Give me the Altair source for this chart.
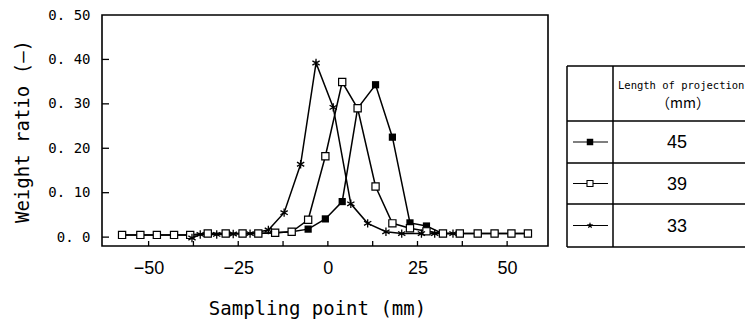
import altair as alt
import pandas as pd

# Sampling positions (mm) shared by the 45 mm and 39 mm projection runs
x_grid = [-57.4, -52.3, -47.7, -42.9, -38.4, -33.5, -28.5, -23.8, -19.4, -14.7,
          -10.1, -5.5, -0.7, 4.0, 8.3, 13.3, 18.0, 22.9, 27.5, 32.1,
          36.8, 41.8, 46.5, 51.2, 55.8]
ratio_45 = [0.005, 0.005, 0.005, 0.005, 0.005, 0.008, 0.008, 0.008, 0.008, 0.010,
            0.012, 0.018, 0.041, 0.080, 0.290, 0.343, 0.225, 0.032, 0.025, 0.008,
            0.008, 0.008, 0.008, 0.008, 0.008]
ratio_39 = [0.005, 0.005, 0.005, 0.005, 0.005, 0.008, 0.008, 0.008, 0.008, 0.010,
            0.012, 0.039, 0.182, 0.349, 0.290, 0.114, 0.031, 0.020, 0.013, 0.008,
            0.008, 0.008, 0.008, 0.008, 0.008]

# Sampling positions (mm) and ratios for the 33 mm projection run
x_33 = [-37.9, -35.6, -31.0, -26.4, -21.7, -16.6, -12.2, -7.6, -3.3, 1.5,
        6.4, 11.1, 16.2, 20.6, 26.1, 29.8, 34.9]
ratio_33 = [-0.002, 0.006, 0.006, 0.007, 0.008, 0.016, 0.055, 0.164, 0.392, 0.292,
            0.075, 0.031, 0.012, 0.008, 0.008, 0.008, 0.008]

projection_labels = ["45", "39", "33"]

x_tick_values = [-50, -37.5, -25, -12.5, 0, 12.5, 25, 37.5, 50]
x_label_values = [-50, -25, 0, 25, 50]
y_tick_values = [0.0, 0.1, 0.2, 0.3, 0.4]
y_label_values = [0.0, 0.1, 0.2, 0.3, 0.4, 0.5]

W, H = 446, 231
MONO = "DejaVu Sans Mono"
SANS = "Liberation Sans"

# symbol paths in the unit square
ASTERISK = "M0,-1L0,1M-0.87,-0.5L0.87,0.5M-0.87,0.5L0.87,-0.5"
STAR5 = ("M0,-1L0.235,-0.324L0.951,-0.309L0.380,0.124L0.588,0.809L0,0.4"
         "L-0.588,0.809L-0.380,0.124L-0.951,-0.309L-0.235,-0.324Z")

df = pd.concat([
    pd.DataFrame({"x": x_grid, "y": ratio_45, "series": "45"}),
    pd.DataFrame({"x": x_grid, "y": ratio_39, "series": "39"}),
    pd.DataFrame({"x": x_33, "y": ratio_33, "series": "33"}),
], ignore_index=True)

X = alt.X(
    "x:Q",
    scale=alt.Scale(domain=[-63, 61.4], nice=False, zero=False),
    axis=alt.Axis(
        values=x_label_values, ticks=False, domain=False, grid=False,
        labelFont=SANS, labelFontSize=18, labelColor="black", labelPadding=13,
        labelFlush=False,
        title="Sampling point (mm)", titleFont=MONO, titleFontSize=19,
        titleFontWeight="normal", titleColor="black",
        titleX=215, titleY=62, titleBaseline="middle", titleAlign="center",
    ),
)
Y = alt.Y(
    "y:Q",
    scale=alt.Scale(domain=[-0.02, 0.5], nice=False, zero=False),
    axis=alt.Axis(
        values=y_label_values, ticks=False, domain=False, grid=False,
        labelExpr="datum.value == 0 ? '0. 0' : '0. ' + format(datum.value * 100, '02d')",
        labelFont=MONO, labelFontSize=14, labelColor="black", labelPadding=12,
        labelBaseline="middle", labelFlush=False,
        title="Weight ratio (—)", titleFont=MONO, titleFontSize=19,
        titleFontWeight="normal", titleColor="black", titleAngle=270,
        titleX=-80, titleY=116, titleBaseline="middle", titleAlign="center",
    ),
)

lines = alt.Chart(df).mark_line(color="black", strokeWidth=1.5).encode(
    x=X, y=Y, detail="series:N"
)
filled_pts = alt.Chart(df[df.series == "45"]).mark_point(
    shape="square", filled=True, color="black", size=52, opacity=1
).encode(x=X, y=Y)
open_pts = alt.Chart(df[df.series == "39"]).mark_point(
    shape="square", filled=True, fill="white", stroke="black", strokeWidth=1.2,
    size=52, opacity=1
).encode(x=X, y=Y)
star_pts = alt.Chart(df[df.series == "33"]).mark_point(
    shape=ASTERISK, filled=False, stroke="black", strokeWidth=1.3, size=70, opacity=1
).encode(x=X, y=Y)

# inward tick marks along the bottom and left frame
x_ticks = alt.Chart(pd.DataFrame({"x": x_tick_values})).mark_rule(
    color="black", strokeWidth=1.3
).encode(x=X, y=alt.value(H), y2=alt.value(H - 5))
y_ticks = alt.Chart(pd.DataFrame({"y": y_tick_values})).mark_rule(
    color="black", strokeWidth=1.3
).encode(y=Y, x=alt.value(0), x2=alt.value(7))

# legend table to the right of the plot
T_LEFT, T_DIV, T_RIGHT = 465, 511, 643
T_TOP, T_ROWS, T_BOTTOM = 51, [106, 148, 189], 232
row_mid = [(T_ROWS[0] + T_ROWS[1]) / 2, (T_ROWS[1] + T_ROWS[2]) / 2, (T_ROWS[2] + T_BOTTOM) / 2]
one = pd.DataFrame({"k": [0]})

table_layers = []
for yy in [T_TOP] + T_ROWS + [T_BOTTOM]:
    table_layers.append(
        alt.Chart(one).mark_rule(color="black", strokeWidth=1.5).encode(
            x=alt.value(T_LEFT), x2=alt.value(T_RIGHT), y=alt.value(yy)
        )
    )
for xx in [T_LEFT, T_DIV]:
    table_layers.append(
        alt.Chart(one).mark_rule(color="black", strokeWidth=1.5).encode(
            x=alt.value(xx), y=alt.value(T_TOP), y2=alt.value(T_BOTTOM)
        )
    )
table_layers.append(
    alt.Chart(pd.DataFrame({"t": ["Length of projection"]})).mark_text(
        font=MONO, fontSize=10.5, align="left", baseline="middle", color="black"
    ).encode(text="t:N", x=alt.value(T_DIV + 5), y=alt.value(71))
)
table_layers.append(
    alt.Chart(pd.DataFrame({"t": ["（mm）"]})).mark_text(
        font="Noto Sans CJK JP", fontSize=14, align="center", baseline="middle", color="black"
    ).encode(text="t:N", x=alt.value(581), y=alt.value(89))
)

marker_styles = [
    dict(shape="square", filled=True, color="black", size=42),
    dict(shape="square", filled=True, fill="white", stroke="black", strokeWidth=1.1, size=36),
    dict(shape=STAR5, filled=True, color="black", size=50),
]
for lab, ym, style in zip(projection_labels, row_mid, marker_styles):
    row = pd.DataFrame({"t": [lab]})
    table_layers.append(
        alt.Chart(row).mark_rule(color="black", strokeWidth=1.2).encode(
            x=alt.value(471), x2=alt.value(506), y=alt.value(ym)
        )
    )
    table_layers.append(
        alt.Chart(row).mark_point(opacity=1, **style).encode(
            x=alt.value(488), y=alt.value(ym)
        )
    )
    table_layers.append(
        alt.Chart(row).mark_text(
            font=SANS, fontSize=18, align="center", baseline="middle", color="black"
        ).encode(text="t:N", x=alt.value(575), y=alt.value(ym + 1))
    )

chart = alt.layer(
    lines, x_ticks, y_ticks, filled_pts, open_pts, star_pts, *table_layers
).properties(
    width=W, height=H,
    autosize=alt.AutoSizeParams(type="none"),
    padding={"left": 102, "top": 15, "right": 197, "bottom": 81},
    background="white",
).configure_view(stroke="black", strokeWidth=1.6)

chart.save("out.html", embed_options={"renderer": "svg", "actions": False})
